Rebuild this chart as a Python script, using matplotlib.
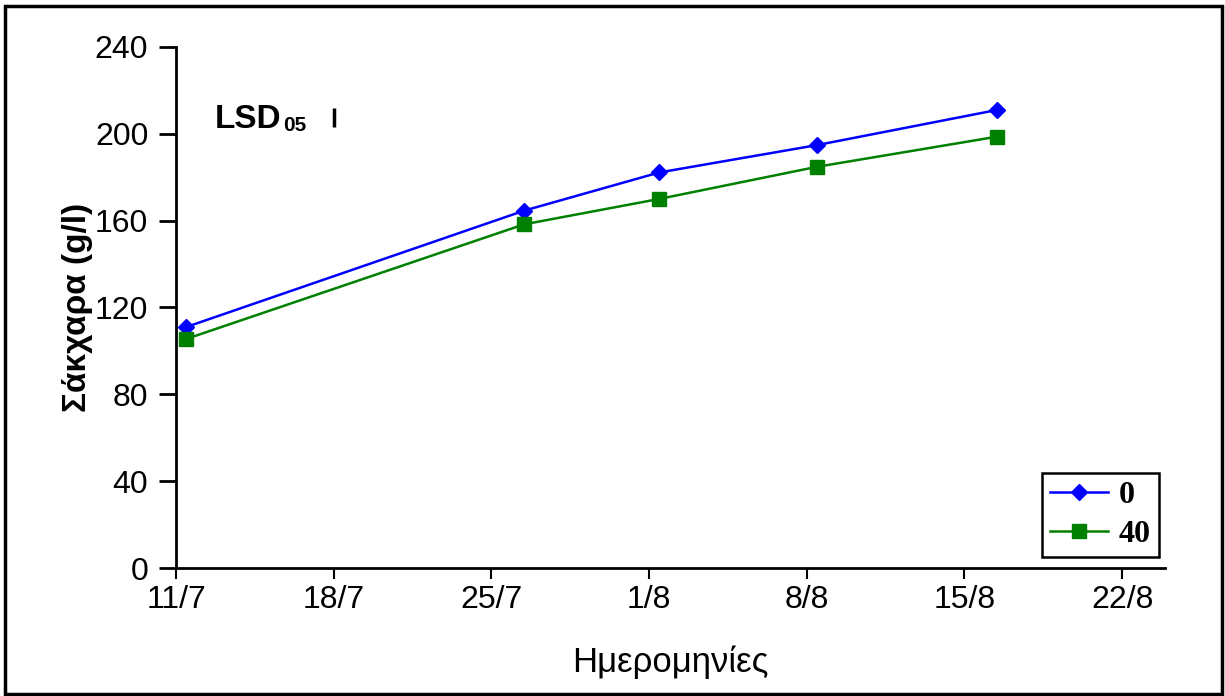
import pandas as pd
import numpy as np
import matplotlib
matplotlib.use("Agg")
import matplotlib.pyplot as plt
from matplotlib.patches import Rectangle

# sampling dates (day/month) and sugar content (g/l)
dates = ["11/7", "26/7", "1/8", "8/8", "16/8"]
sugar_0 = [111.0, 164.6, 182.2, 194.8, 211.0]
sugar_40 = [105.5, 158.3, 170.0, 184.8, 198.7]
series_labels = ["0", "40"]

tick_dates = ["11/7", "18/7", "25/7", "1/8", "8/8", "15/8", "22/8"]
y_ticks = [0, 40, 80, 120, 160, 200, 240]

# LSD05 bar
lsd_date = "18/7"
lsd_center = 207.5
lsd_half = 4.4


def to_day(d, start="11/7"):
    t = pd.to_datetime(d + "/2000", format="%d/%m/%Y")
    t0 = pd.to_datetime(start + "/2000", format="%d/%m/%Y")
    return (t - t0).days


x_days = np.array([to_day(d) for d in dates]) + 0.45
tick_days = [to_day(d) for d in tick_dates]

plt.rcParams['font.family'] = ['Liberation Sans', 'DejaVu Sans']

fig = plt.figure(figsize=(12.25, 6.96), dpi=100)
ax = fig.add_axes([0.1437, 0.1839, 0.951 - 0.1437, 0.9325 - 0.1839])

ax.plot(x_days, sugar_0, color="#0000ff", lw=1.8, marker="D", markersize=8,
        label=series_labels[0])
ax.plot(x_days, sugar_40, color="#008000", lw=1.8, marker="s", markersize=10,
        label=series_labels[1])

lsd_x = to_day(lsd_date)
ax.plot([lsd_x, lsd_x], [lsd_center - lsd_half, lsd_center + lsd_half],
        color="black", lw=2.5, solid_capstyle="butt")
ax.text(1.7, lsd_center - 1, "LSD", fontsize=24, fontweight="bold",
        va="center", ha="left")
ax.text(4.75, lsd_center - 3.5, "05", fontsize=15, fontweight="bold",
        va="center", ha="left")

ax.set_xlim(0, 43.9)
ax.set_ylim(0, 240)
ax.set_xticks(tick_days)
ax.set_xticklabels(tick_dates)
ax.set_yticks(y_ticks)

for s in ["top", "right"]:
    ax.spines[s].set_visible(False)
for s in ["left", "bottom"]:
    ax.spines[s].set_linewidth(2)
ax.tick_params(axis="y", direction="out", length=12, width=2, labelsize=23, pad=8)
ax.tick_params(axis="x", direction="out", length=8, width=1.5, labelsize=23, pad=4)

ax.set_ylabel("Σάκχαρα (g/l)", fontsize=24, fontweight="bold", labelpad=1)
ax.set_xlabel("Ημερομηνίες", fontsize=25, labelpad=22)

leg = ax.legend(loc="lower right", bbox_to_anchor=(0.994, 0.021),
                prop={"family": "Liberation Serif", "weight": "bold", "size": 23},
                fancybox=False, edgecolor="black", framealpha=1,
                handlelength=1.8, borderpad=0.25, labelspacing=0.3,
                handletextpad=0.35, borderaxespad=0)
leg.get_frame().set_linewidth(1.8)

fig.patches.append(Rectangle((5 / 1225, 2 / 696), 1217 / 1225, 688 / 696,
                             transform=fig.transFigure, fill=False,
                             edgecolor="black", lw=2.5))

fig.savefig("out.png", dpi=100)
